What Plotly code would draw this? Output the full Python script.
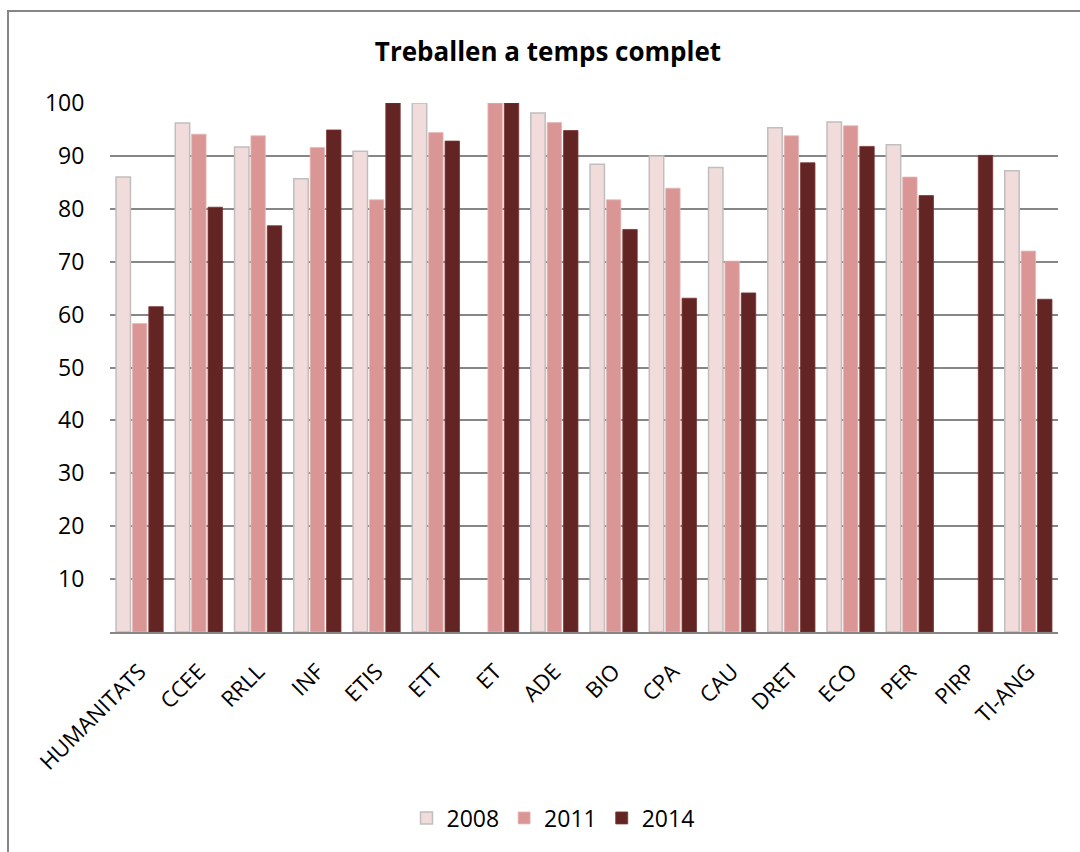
import plotly.graph_objects as go

categories = ["HUMANITATS", "CCEE", "RRLL", "INF", "ETIS", "ETT", "ET", "ADE", "BIO",
              "CPA", "CAU", "DRET", "ECO", "PER", "PIRP", "TI-ANG"]
v2008 = [86.0, 96.2, 91.7, 85.7, 90.9, 100.0, None, 98.1, 88.4, 90.0, 87.8, 95.3, 96.4, 92.1, None, 87.2]
v2011 = [58.3, 94.1, 93.8, 91.6, 81.7, 94.4, 100.0, 96.3, 81.7, 83.9, 70.1, 93.8, 95.7, 86.0, None, 72.0]
v2014 = [61.5, 80.3, 76.8, 94.9, 100.0, 92.8, 100.0, 94.8, 76.1, 63.1, 64.1, 88.7, 91.8, 82.5, 90.1, 62.9]
yticks = [10, 20, 30, 40, 50, 60, 70, 80, 90, 100]

FONT = "Open Sans"

fig = go.Figure()
fig.add_trace(go.Bar(name="2008", x=categories, y=v2008,
                     marker=dict(color="#F2DCDB", line=dict(color="#BFBFBF", width=1.5))))
fig.add_trace(go.Bar(name="2011", x=categories, y=v2011,
                     marker=dict(color="#D99694", line=dict(color="#E6B9B8", width=0.8))))
fig.add_trace(go.Bar(name="2014", x=categories, y=v2014,
                     marker=dict(color="#632523", line=dict(color="#7a3533", width=0.8))))

W, H = 1080, 852
# target plot area on screen: x 110..1058, y 103..632
L, T = 110, 103
R = W - 1058
B = H - 632
pw, ph = W - L - R, H - T - B

def sx(px):  # screen x -> paper
    return (px - L) / pw

def sy(py):  # screen y -> paper
    return (H - B - py) / ph

fig.update_layout(
    width=W, height=H,
    margin=dict(l=L, r=R, t=T, b=B),
    paper_bgcolor="white", plot_bgcolor="white",
    font=dict(family=FONT, size=23, color="black"),
    barmode="group", bargap=0.17, bargroupgap=0.12,
    title=dict(text="<b>Treballen a temps complet</b>", x=548 / W, xref="container",
               xanchor="center", y=1 - 52 / H, yref="container", yanchor="middle",
               font=dict(family=FONT, size=26, color="black")),
    legend=dict(orientation="h", x=sx(553), xanchor="center",
                y=sy(818), yanchor="middle",
                font=dict(family=FONT, size=23), itemwidth=30, traceorder="normal"),
    showlegend=True,
    shapes=[dict(type="rect", xref="paper", yref="paper",
                 x0=sx(8), x1=sx(1100), y0=sy(880), y1=sy(11),
                 line=dict(color="#868686", width=2), fillcolor="rgba(0,0,0,0)", layer="below")],
)
fig.update_xaxes(showgrid=False, showline=True, linecolor="#868686", linewidth=2,
                 tickangle=-45, ticks="outside", ticklen=16, tickcolor="rgba(0,0,0,0)",
                 tickfont=dict(family=FONT, size=22), zeroline=False)
fig.update_yaxes(range=[0, 100], tickvals=yticks, showgrid=True, gridcolor="#868686",
                 gridwidth=1.5, showline=False, zeroline=False, ticks="outside", ticklen=20,
                 tickcolor="rgba(0,0,0,0)", tickfont=dict(family=FONT, size=23))

fig.write_html("out.html", config={"displayModeBar": False},
               post_script="document.body.style.margin='0px';document.body.style.overflow='hidden';")
